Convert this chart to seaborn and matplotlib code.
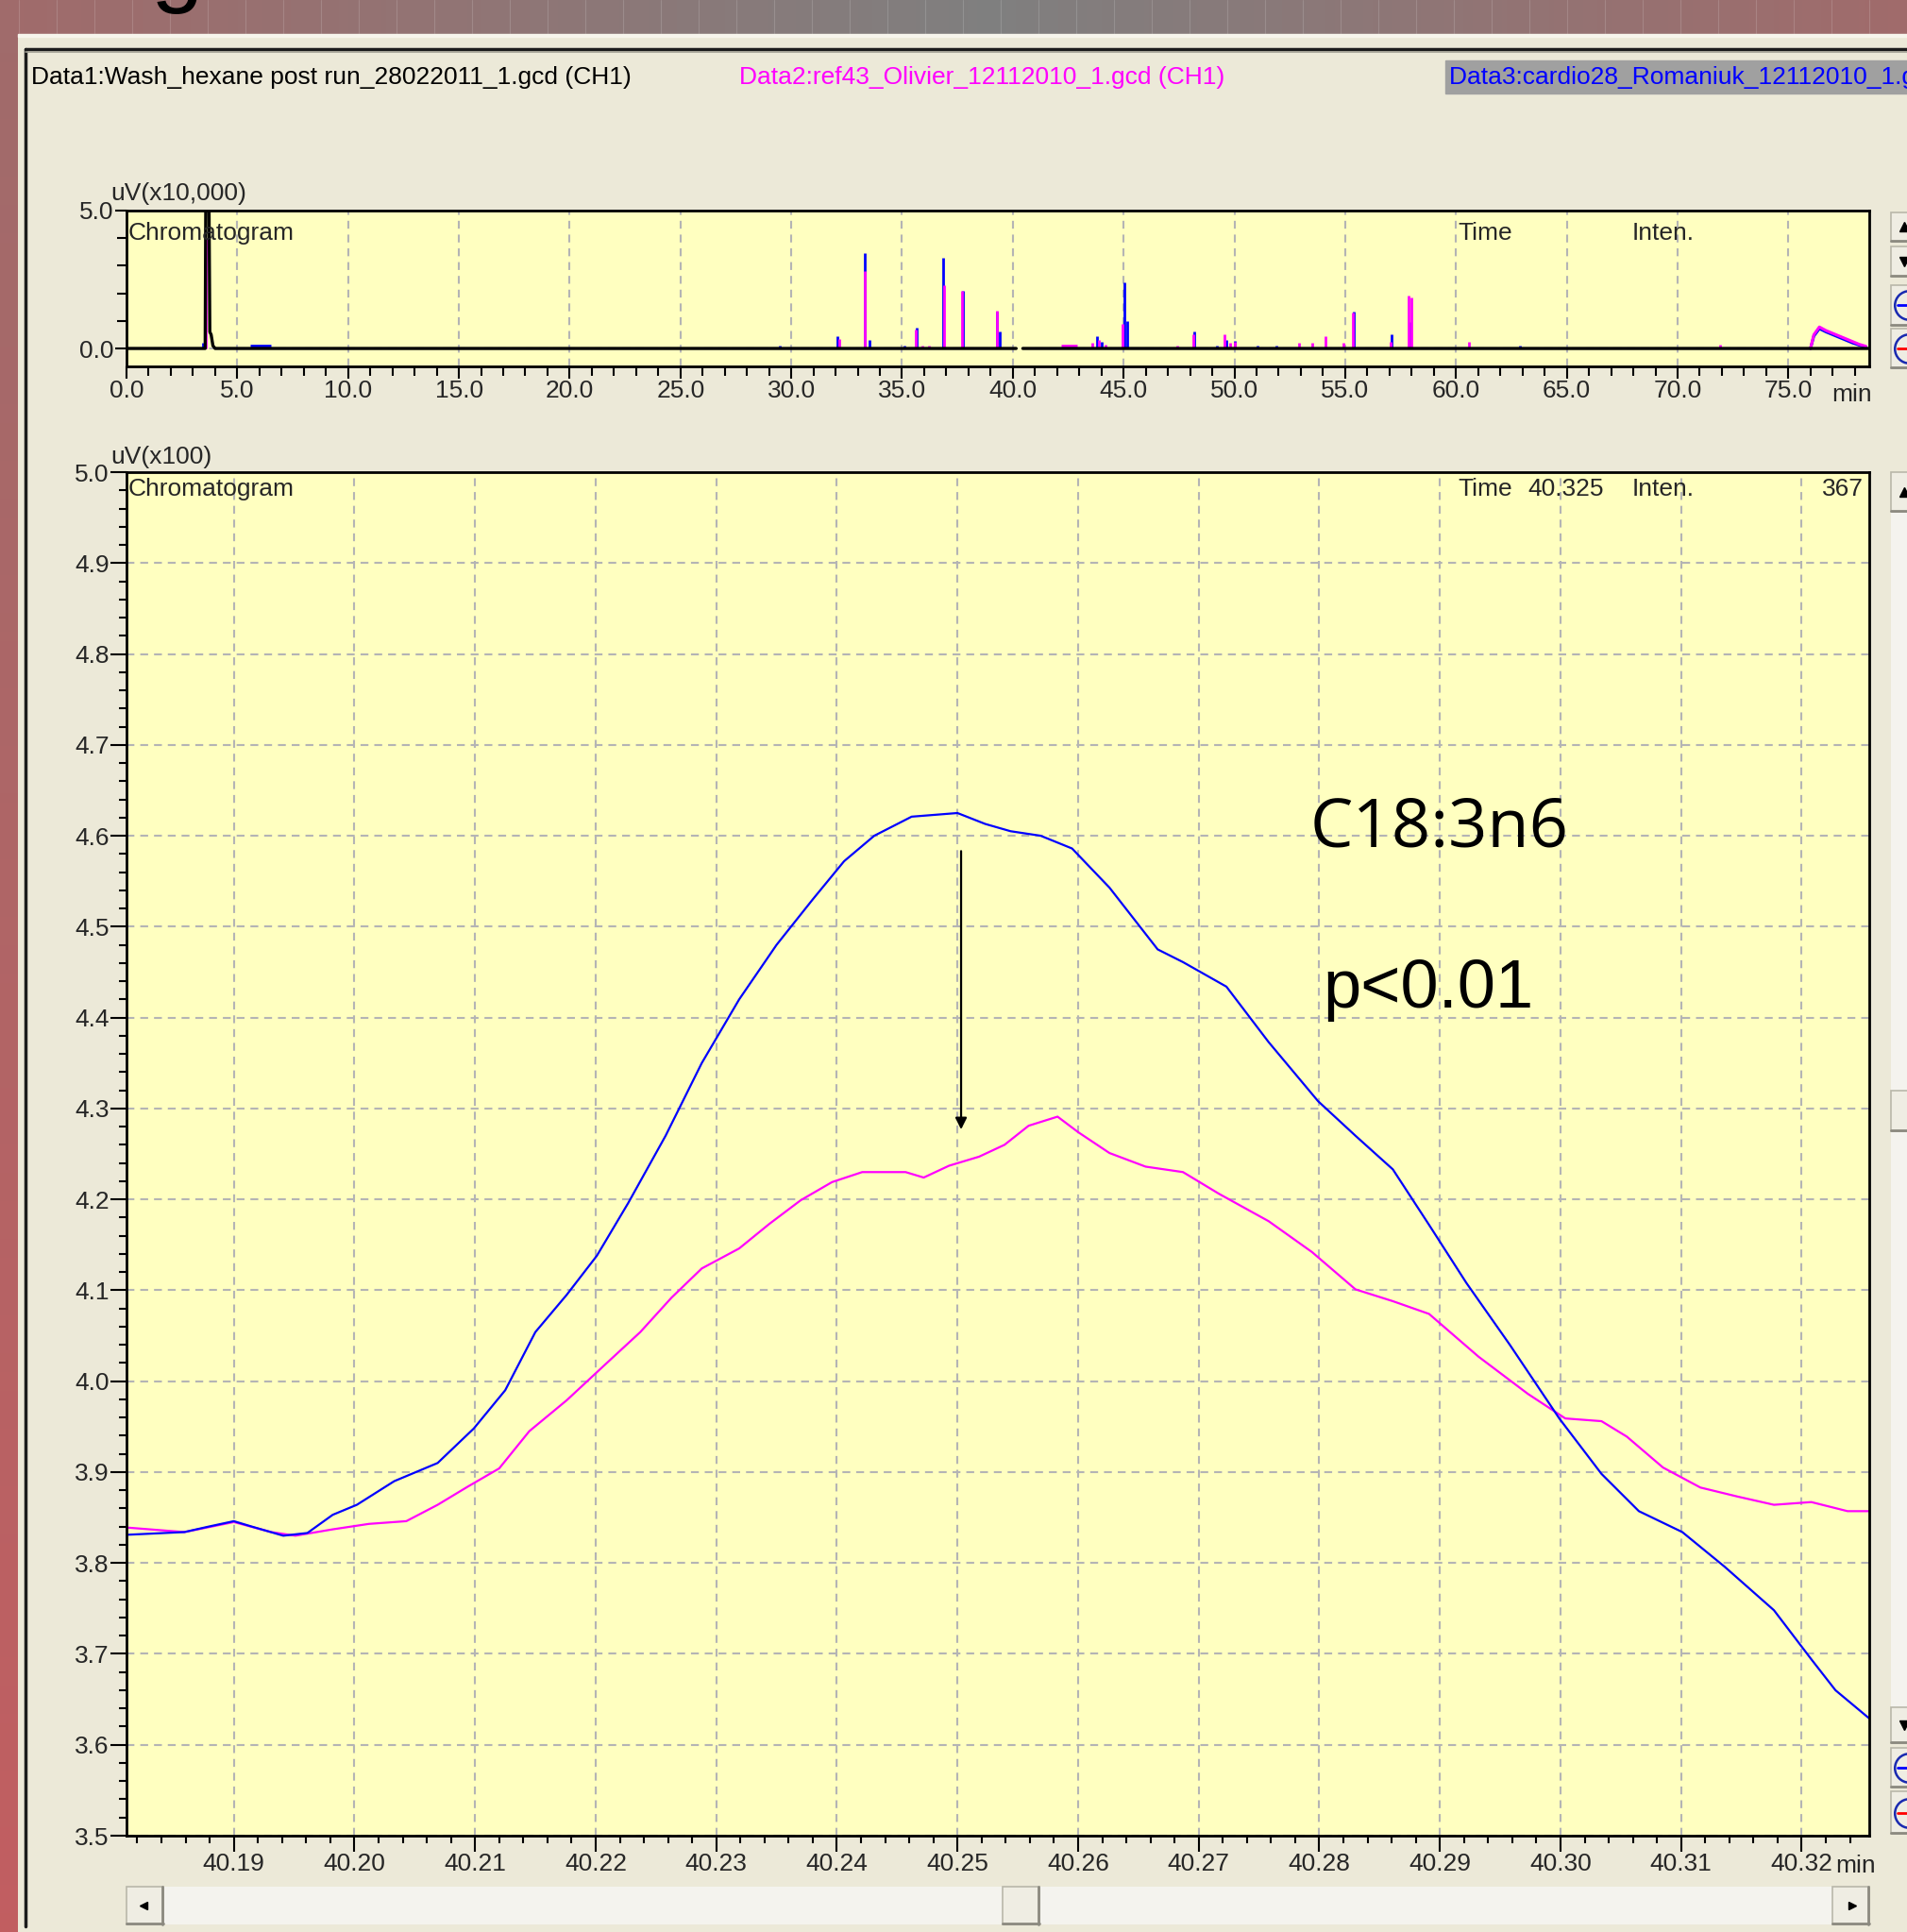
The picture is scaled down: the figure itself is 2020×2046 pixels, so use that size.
import numpy as np
import pandas as pd
import seaborn as sns
import matplotlib
matplotlib.use("Agg")
import matplotlib.pyplot as plt
from matplotlib.patches import Rectangle
from matplotlib.ticker import MultipleLocator, FormatStrFormatter

# ---------------- data ----------------
header_data1 = "Data1:Wash_hexane post run_28022011_1.gcd (CH1)"
header_data2 = "Data2:ref43_Olivier_12112010_1.gcd (CH1)"
header_data3 = "Data3:cardio28_Romaniuk_12112010_1.gcd (CH1)"

# overview chromatogram (min, uV x10,000)
black_t = [0.0, 3.55, 3.58, 3.72, 3.76, 3.82, 3.90, 4.00, 40.15, 40.16, 40.45, 78.65]
black_v = [0.0, 0.0, 5.6, 5.6, 0.6, 0.5, 0.1, 0.0, 0.0, np.nan, 0.0, 0.0]
blue_peak_t = [3.45, 29.5, 32.1, 33.3, 33.55, 35.1, 35.65, 36.85, 37.75, 39.3, 39.4, 43.8, 44.0,
               45.05, 45.15, 48.2, 49.2, 49.65, 50.0, 51.05, 51.9, 55.4, 57.1, 57.95, 62.9]
blue_peak_h = [0.2, 0.1, 0.45, 3.45, 0.3, 0.1, 0.75, 3.3, 2.1, 1.35, 0.6, 0.45, 0.25,
               2.4, 1.0, 0.62, 0.1, 0.3, 0.28, 0.1, 0.1, 1.35, 0.5, 0.95, 0.1]
mag_peak_t = [3.6, 32.15, 33.3, 35.6, 35.9, 36.2, 36.9, 37.7, 39.3, 43.6, 43.9, 44.2, 44.95, 47.4,
              48.15, 49.55, 49.8, 50.0, 52.9, 53.5, 54.1, 54.9, 55.35, 57.05, 57.85, 58.0, 60.6, 71.9]
mag_peak_h = [4.0, 0.35, 2.8, 0.7, 0.1, 0.1, 2.3, 2.1, 1.37, 0.2, 0.3, 0.15, 0.9, 0.1,
              0.5, 0.5, 0.2, 0.25, 0.2, 0.2, 0.45, 0.2, 1.3, 0.25, 1.92, 1.85, 0.25, 0.15]
blue_flat = [5.6, 6.5, 0.08]
mag_flat = [42.2, 42.9, 0.08]
hump_t = [76.0, 76.15, 76.4, 76.7, 77.0, 77.3, 77.6, 77.9, 78.2, 78.5]
hump_mag = [0.0, 0.5, 0.78, 0.65, 0.55, 0.45, 0.35, 0.25, 0.15, 0.08]
hump_blue = [0.0, 0.45, 0.72, 0.6, 0.5, 0.4, 0.3, 0.2, 0.12, 0.05]

# zoomed chromatogram (min, uV x100)
blue_t = [40.1811, 40.1859, 40.1879, 40.1900, 40.1915, 40.1941, 40.1961, 40.1982, 40.2002, 40.2033,
          40.2069, 40.2099, 40.2125, 40.2150, 40.2176, 40.2201, 40.2227, 40.2258, 40.2288, 40.2319,
          40.2350, 40.2380, 40.2406, 40.2431, 40.2462, 40.2500, 40.2523, 40.2544, 40.2569, 40.2595,
          40.2626, 40.2666, 40.2687, 40.2723, 40.2758, 40.2799, 40.2830, 40.2861, 40.2891, 40.2922,
          40.2958, 40.2999, 40.3034, 40.3065, 40.3101, 40.3136, 40.3177, 40.3208, 40.3228, 40.3256]
blue_v = [3.831, 3.834, 3.840, 3.846, 3.840, 3.830, 3.833, 3.853, 3.864, 3.890,
          3.910, 3.948, 3.990, 4.054, 4.095, 4.138, 4.196, 4.270, 4.350, 4.420,
          4.480, 4.530, 4.572, 4.600, 4.621, 4.625, 4.613, 4.605, 4.600, 4.586,
          4.543, 4.475, 4.461, 4.434, 4.373, 4.308, 4.270, 4.233, 4.172, 4.108,
          4.040, 3.959, 3.898, 3.857, 3.834, 3.796, 3.748, 3.694, 3.660, 3.629]
mag_t = [40.1811, 40.1859, 40.1900, 40.1931, 40.1951, 40.1982, 40.2012, 40.2043, 40.2069, 40.2094,
         40.2120, 40.2145, 40.2176, 40.2206, 40.2237, 40.2263, 40.2288, 40.2319, 40.2344, 40.2370,
         40.2396, 40.2421, 40.2457, 40.2472, 40.2493, 40.2518, 40.2539, 40.2559, 40.2583, 40.2600,
         40.2626, 40.2656, 40.2687, 40.2717, 40.2758, 40.2794, 40.2830, 40.2861, 40.2891, 40.2932,
         40.2973, 40.3004, 40.3034, 40.3055, 40.3085, 40.3116, 40.3147, 40.3177, 40.3208, 40.3238,
         40.3256]
mag_v = [3.839, 3.834, 3.845, 3.834, 3.830, 3.837, 3.843, 3.846, 3.864, 3.884,
         3.904, 3.945, 3.979, 4.016, 4.054, 4.092, 4.124, 4.146, 4.173, 4.199,
         4.219, 4.230, 4.230, 4.224, 4.237, 4.247, 4.260, 4.281, 4.291, 4.274,
         4.251, 4.236, 4.230, 4.206, 4.176, 4.142, 4.101, 4.088, 4.074, 4.027,
         3.986, 3.959, 3.956, 3.939, 3.905, 3.883, 3.873, 3.864, 3.867, 3.857,
         3.857]
arrow_x = 40.2503
arrow_from, arrow_to = 4.586, 4.274
label_peak = "C18:3n6"
label_p = "p<0.01"

# ---------------- style ----------------
sns.set_theme(style="ticks")
FONT = ["Liberation Sans Narrow", "Liberation Sans", "DejaVu Sans"]
plt.rcParams["font.family"] = FONT

BEIGE = "#ece9d8"
PLOTBG = "#ffffc0"
BLUE = "#0000ff"
MAGENTA = "#ff00ff"
GRID = "#b4b4b4"
FS = 19

W, H = 2020, 2046
fig = plt.figure(figsize=(W / 100, H / 100), dpi=100)
fig.patch.set_facecolor(BEIGE)


def box(x0, y0, x1, y1):
    return [x0 / W, 1 - y1 / H, (x1 - x0) / W, (y1 - y0) / H]


# background decorations (pixel coordinates)
bg = fig.add_axes([0, 0, 1, 1], zorder=0)
xs = np.linspace(0, 1, 400)
stops = [0.0, 0.52, 1.0]
cols = np.array([[0.63, 0.42, 0.42], [0.50, 0.50, 0.50], [0.63, 0.42, 0.42]])
grad = np.stack([np.interp(xs, stops, cols[:, k]) for k in range(3)], axis=-1)[None, :, :]
bg.imshow(grad, extent=[0, W, 36, 0], aspect="auto", zorder=1)
ys = np.linspace(0, 1, 200)
vcols = np.array([[0.63, 0.42, 0.42], [0.76, 0.37, 0.38]])
vgrad = np.stack([np.interp(ys, [0, 1], vcols[:, k]) for k in range(3)], axis=-1)[:, None, :]
bg.imshow(vgrad, extent=[0, 19, H, 36], aspect="auto", zorder=1)
for xv in range(20, W, 40):
    bg.plot([xv, xv], [0, 36], color="white", lw=0.8, alpha=0.15, zorder=2)
bg.set_xlim(0, W)
bg.set_ylim(H, 0)
bg.axis("off")
bg.add_patch(Rectangle((19, 36), W - 19, 3, color="#f7f5ec", zorder=2))
bg.plot([27, 27], [52, 2040], color="#1c1c1c", lw=2.5, zorder=3)
bg.plot([27, W], [52, 52], color="#1c1c1c", lw=2.5, zorder=3)
bg.plot([27, W], [55, 55], color="#a09e92", lw=1.2, zorder=3)
bg.add_patch(Rectangle((1531, 64), W - 1531, 35, color="#a0a0a0", zorder=2))


def button(ax, x0, y0, x1, y1):
    ax.add_patch(Rectangle((x0, y0), x1 - x0, y1 - y0, facecolor="#efede3",
                           edgecolor="#b9b7aa", lw=1.2, zorder=4))
    ax.plot([x0, x1], [y1 - 1, y1 - 1], color="#8c8a80", lw=2, zorder=5)
    ax.plot([x1 - 1, x1 - 1], [y0, y1], color="#8c8a80", lw=2, zorder=5)


# bottom scroll bar
bg.add_patch(Rectangle((134, 1998), 1846, 40, facecolor="#f4f3ee", edgecolor="none", zorder=3))
button(bg, 134, 1998, 173, 2038)
button(bg, 1941, 1998, 1980, 2038)
button(bg, 1062, 1998, 1101, 2038)
bg.plot([152], [2018], marker="<", color="black", ms=6, zorder=6)
bg.plot([1962], [2018], marker=">", color="black", ms=6, zorder=6)
# right scroll bars
bg.add_patch(Rectangle((2003, 542), 30, 1266, facecolor="#f4f3ee", edgecolor="none", zorder=3))
for (y0, y1) in [(500, 542), (1155, 1198), (1808, 1846), (1851, 1893), (1897, 1942),
                 (225, 256), (261, 293), (302, 345), (348, 390)]:
    button(bg, 2003, y0, 2040, y1)
for yv, mk in [(521, "^"), (1827, "v"), (240, "^"), (277, "v")]:
    bg.plot([2017], [yv], marker=mk, color="black", ms=7, zorder=6, clip_on=False)
for yv, c in [(1872, BLUE), (1920, "red"), (323, BLUE), (369, "red")]:
    bg.plot([2022], [yv], marker="o", mfc="none", mec="#1a2ab0", mew=1.8, ms=22, zorder=6)
    bg.plot([2010, 2020], [yv, yv], color=c, lw=2, zorder=7)

bg.text(160, -6, "g", fontsize=72, family="Liberation Sans", va="baseline", ha="left",
        color="black", zorder=6, clip_on=False)
bg.text(33, 82, header_data1, fontsize=FS, va="center", ha="left", color="black", zorder=6)
bg.text(783, 82, header_data2, fontsize=FS, va="center", ha="left", color=MAGENTA, zorder=6)
bg.text(1535, 82, header_data3, fontsize=FS, va="center", ha="left", color=BLUE, zorder=6)
bg.text(117, 205, "uV(x10,000)", fontsize=FS, va="center", ha="left", zorder=6)
bg.text(117, 484, "uV(x100)", fontsize=FS, va="center", ha="left", zorder=6)
bg.text(1940, 418, "min", fontsize=FS, va="center", ha="left", zorder=6)
bg.text(1944, 1976, "min", fontsize=FS, va="center", ha="left", zorder=6)


def style_axes(ax):
    ax.set_facecolor(PLOTBG)
    for s in ax.spines.values():
        s.set_visible(True)
        s.set_color("black")
        s.set_linewidth(2)
    ax.grid(True, which="major", linestyle=(0, (4, 3)), color=GRID, lw=1.5)
    ax.tick_params(which="major", direction="out", length=12, width=1.5, color="black",
                   labelsize=FS, pad=1, top=False, right=False)
    ax.tick_params(which="minor", direction="out", length=6, width=1.5, color="black",
                   top=False, right=False)
    ax.set_xlabel("")
    ax.set_ylabel("")


# ---------------- overview panel ----------------
ax1 = fig.add_axes(box(134, 223, 1980, 388), zorder=2)
ax1.vlines(blue_peak_t, 0, blue_peak_h, colors=BLUE, lw=2.0, zorder=3)
ax1.vlines(mag_peak_t, 0, mag_peak_h, colors=MAGENTA, lw=2.0, zorder=4)
ax1.hlines([blue_flat[2]], blue_flat[0], blue_flat[1], colors=BLUE, lw=3.5, zorder=3)
ax1.hlines([mag_flat[2]], mag_flat[0], mag_flat[1], colors=MAGENTA, lw=3.5, zorder=4)
hump = pd.DataFrame({"t": hump_t * 2, "v": hump_blue + hump_mag,
                     "s": ["Data3"] * len(hump_t) + ["Data2"] * len(hump_t)})
sns.lineplot(data=hump, x="t", y="v", hue="s", hue_order=["Data3", "Data2"],
             palette={"Data3": BLUE, "Data2": MAGENTA}, estimator=None, sort=False,
             legend=False, lw=2.2, ax=ax1)
ax1.plot(black_t, black_v, color="black", lw=2.4, zorder=6)
style_axes(ax1)
ax1.set_xlim(0, 78.65)
ax1.set_ylim(-0.65, 5.0)
ax1.xaxis.set_major_locator(MultipleLocator(5))
ax1.xaxis.set_minor_locator(MultipleLocator(1))
ax1.yaxis.set_major_locator(MultipleLocator(5))
ax1.yaxis.set_minor_locator(MultipleLocator(1))
ax1.xaxis.set_major_formatter(FormatStrFormatter("%.1f"))
ax1.yaxis.set_major_formatter(FormatStrFormatter("%.1f"))
ax1.tick_params(which="major", length=9)
ax1.tick_params(which="minor", length=7)
ax1.text(0.001, 0.93, "Chromatogram", transform=ax1.transAxes, fontsize=FS, va="top", ha="left", zorder=7)
ax1.text((1544 - 134) / 1846, 0.93, "Time", transform=ax1.transAxes, fontsize=FS, va="top", ha="left")
ax1.text((1729 - 134) / 1846, 0.93, "Inten.", transform=ax1.transAxes, fontsize=FS, va="top", ha="left")

# ---------------- zoomed panel ----------------
ax2 = fig.add_axes(box(134, 500, 1980, 1944), zorder=2)
df = pd.DataFrame({"t": mag_t + blue_t, "v": mag_v + blue_v,
                   "s": ["Data2"] * len(mag_t) + ["Data3"] * len(blue_t)})
sns.lineplot(data=df, x="t", y="v", hue="s", hue_order=["Data2", "Data3"],
             palette={"Data2": MAGENTA, "Data3": BLUE}, estimator=None, sort=False,
             legend=False, lw=1.6, ax=ax2)
style_axes(ax2)
ax2.set_xlim(40.1811, 40.3256)
ax2.set_ylim(3.5, 5.0)
ax2.xaxis.set_major_locator(MultipleLocator(0.01))
ax2.xaxis.set_minor_locator(MultipleLocator(0.002))
ax2.yaxis.set_major_locator(MultipleLocator(0.1))
ax2.yaxis.set_minor_locator(MultipleLocator(0.02))
ax2.xaxis.set_major_formatter(FormatStrFormatter("%.2f"))
ax2.yaxis.set_major_formatter(FormatStrFormatter("%.1f"))
ax2.text(0.001, 0.996, "Chromatogram", transform=ax2.transAxes, fontsize=FS, va="top", ha="left")
ax2.text((1544 - 134) / 1846, 0.996, "Time", transform=ax2.transAxes, fontsize=FS, va="top", ha="left")
ax2.text((1618 - 134) / 1846, 0.996, "40.325", transform=ax2.transAxes, fontsize=FS, va="top", ha="left")
ax2.text((1729 - 134) / 1846, 0.996, "Inten.", transform=ax2.transAxes, fontsize=FS, va="top", ha="left")
ax2.text(0.997, 0.996, "367", transform=ax2.transAxes, fontsize=FS, va="top", ha="right")
ax2.annotate("", xy=(arrow_x, arrow_to), xytext=(arrow_x, arrow_from),
             arrowprops=dict(arrowstyle="-|>", color="black", lw=1.6, mutation_scale=18))
ax2.text(40.2792, 4.608, label_peak, fontsize=52, family=["Open Sans", "DejaVu Sans"],
         va="center", ha="left", color="black")
ax2.text(40.2803, 4.430, label_p, fontsize=52, family=["Liberation Sans", "DejaVu Sans"],
         va="center", ha="left", color="black")

fig.savefig("out.png", dpi=100, facecolor=fig.get_facecolor())
